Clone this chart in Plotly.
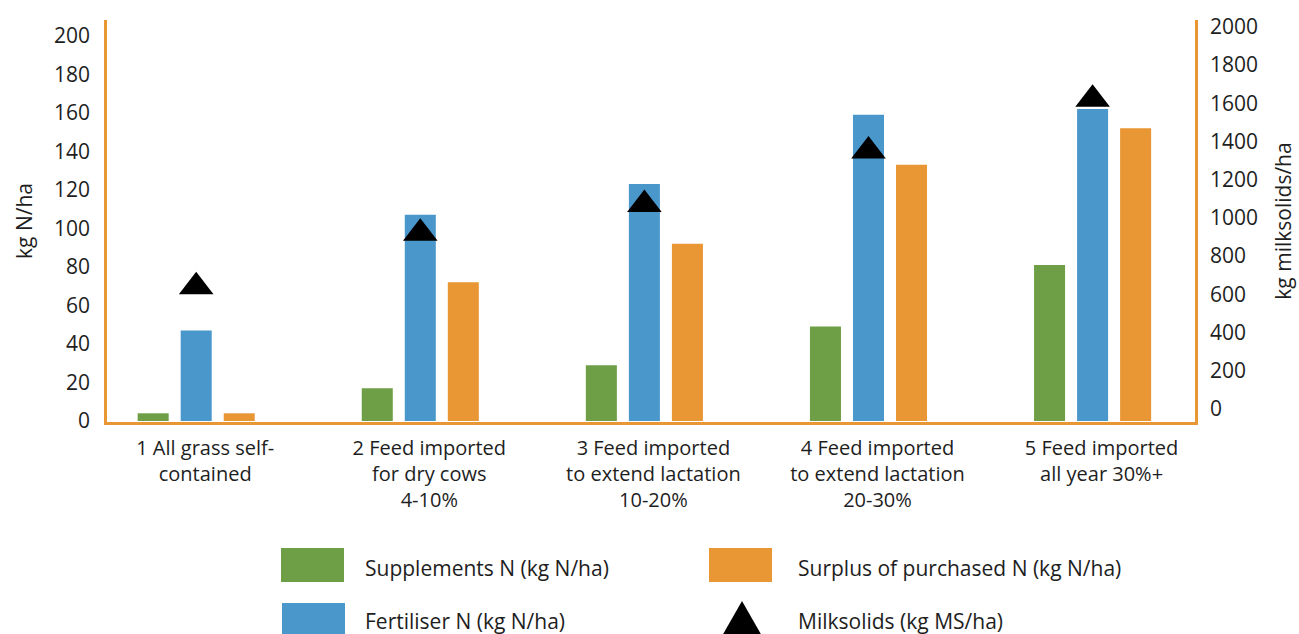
import plotly.graph_objects as go

categories = [
    "1 All grass self-<br>contained",
    "2 Feed imported<br>for dry cows<br>4-10%",
    "3 Feed imported<br>to extend lactation<br>10-20%",
    "4 Feed imported<br>to extend lactation<br>20-30%",
    "5 Feed imported<br>all year 30%+",
]
supplements_n = [4, 17, 29, 49, 81]
fertiliser_n = [47, 107, 123, 159, 162]
surplus_n = [4, 72, 92, 133, 152]
milksolids = [640, 920, 1070, 1350, 1620]

legend_labels = [
    "Supplements N (kg N/ha)",
    "Fertiliser N (kg N/ha)",
    "Surplus of purchased N (kg N/ha)",
    "Milksolids (kg MS/ha)",
]

GREEN = "#6E9E45"
BLUE = "#4A97CC"
ORANGE = "#E99635"
TEXT = "#1E1E1E"
FONT = "Open Sans"

W, H = 1299, 634
L, R, T, B = 107, 104, 20, 212
PW, PH = W - L - R, H - T - B


def px(x):
    return (x - L) / PW


def py(y):
    return (H - B - y) / PH


fig = go.Figure()
fig.add_trace(go.Bar(x=categories, y=supplements_n, name=legend_labels[0],
                     marker=dict(color=GREEN, line=dict(width=0))))
fig.add_trace(go.Bar(x=categories, y=fertiliser_n, name=legend_labels[1],
                     marker=dict(color=BLUE, line=dict(width=0))))
fig.add_trace(go.Bar(x=categories, y=surplus_n, name=legend_labels[2],
                     marker=dict(color=ORANGE, line=dict(width=0))))
fig.add_trace(go.Scatter(x=categories, y=milksolids, name=legend_labels[3],
                         mode="markers", yaxis="y2",
                         marker=dict(symbol="triangle-up", size=30, color="black",
                                     line=dict(width=0))))

# manual legend (large swatches)
shapes = []
annotations = []
swatches = [
    (281, 548, 344, 582, GREEN),
    (282, 603, 345, 637, BLUE),
    (709, 548, 772, 582, ORANGE),
]
for x0, y0, x1, y1, c in swatches:
    shapes.append(dict(type="rect", xref="paper", yref="paper",
                       x0=px(x0), x1=px(x1), y0=py(y1), y1=py(y0),
                       fillcolor=c, line=dict(width=0)))
tri = "M {},{} L {},{} L {},{} Z".format(px(722), py(636), px(762), py(636), px(742), py(601))
shapes.append(dict(type="path", xref="paper", yref="paper", path=tri,
                   fillcolor="black", line=dict(width=0)))
text_pos = [(363, 568), (363, 621), (796, 568), (796, 621)]
for (tx, ty), lab in zip(text_pos, legend_labels):
    annotations.append(dict(text=lab, x=px(tx), y=py(ty), xref="paper", yref="paper",
                            xanchor="left", yanchor="middle", showarrow=False,
                            font=dict(family=FONT, size=21, color=TEXT)))

fig.update_layout(
    width=W, height=H,
    margin=dict(l=L, r=R, t=T, b=B, autoexpand=False),
    paper_bgcolor="white", plot_bgcolor="white",
    barmode="group", bargap=0.424, bargroupgap=0.279,
    showlegend=False,
    font=dict(family=FONT, size=20, color=TEXT),
    shapes=shapes, annotations=annotations,
    xaxis=dict(range=[-0.398, 4.457], showline=True, linecolor=ORANGE, linewidth=2.5,
               showgrid=False, zeroline=False, ticks="", ticklabelshift=9,
               ticklabelstandoff=6, tickfont=dict(size=20, color=TEXT), automargin=False),
    yaxis=dict(range=[-0.52, 208.15], tick0=0, dtick=20, showline=True, linecolor=ORANGE,
               linewidth=2.5, showgrid=False, zeroline=False, ticks="",
               ticklabelstandoff=10, tickfont=dict(size=21, color=TEXT), automargin=False,
               title=dict(text="kg N/ha", font=dict(size=21, color=TEXT), standoff=16)),
    yaxis2=dict(range=[-68, 2035], tick0=0, dtick=200, overlaying="y", side="right",
                showline=True, linecolor=ORANGE, linewidth=2.5, showgrid=False,
                zeroline=False, ticks="", ticklabelstandoff=8,
                tickfont=dict(size=21, color=TEXT), automargin=False,
                title=dict(text="kg milksolids/ha", font=dict(size=21, color=TEXT), standoff=20)),
)

fig.write_html("out.html")
